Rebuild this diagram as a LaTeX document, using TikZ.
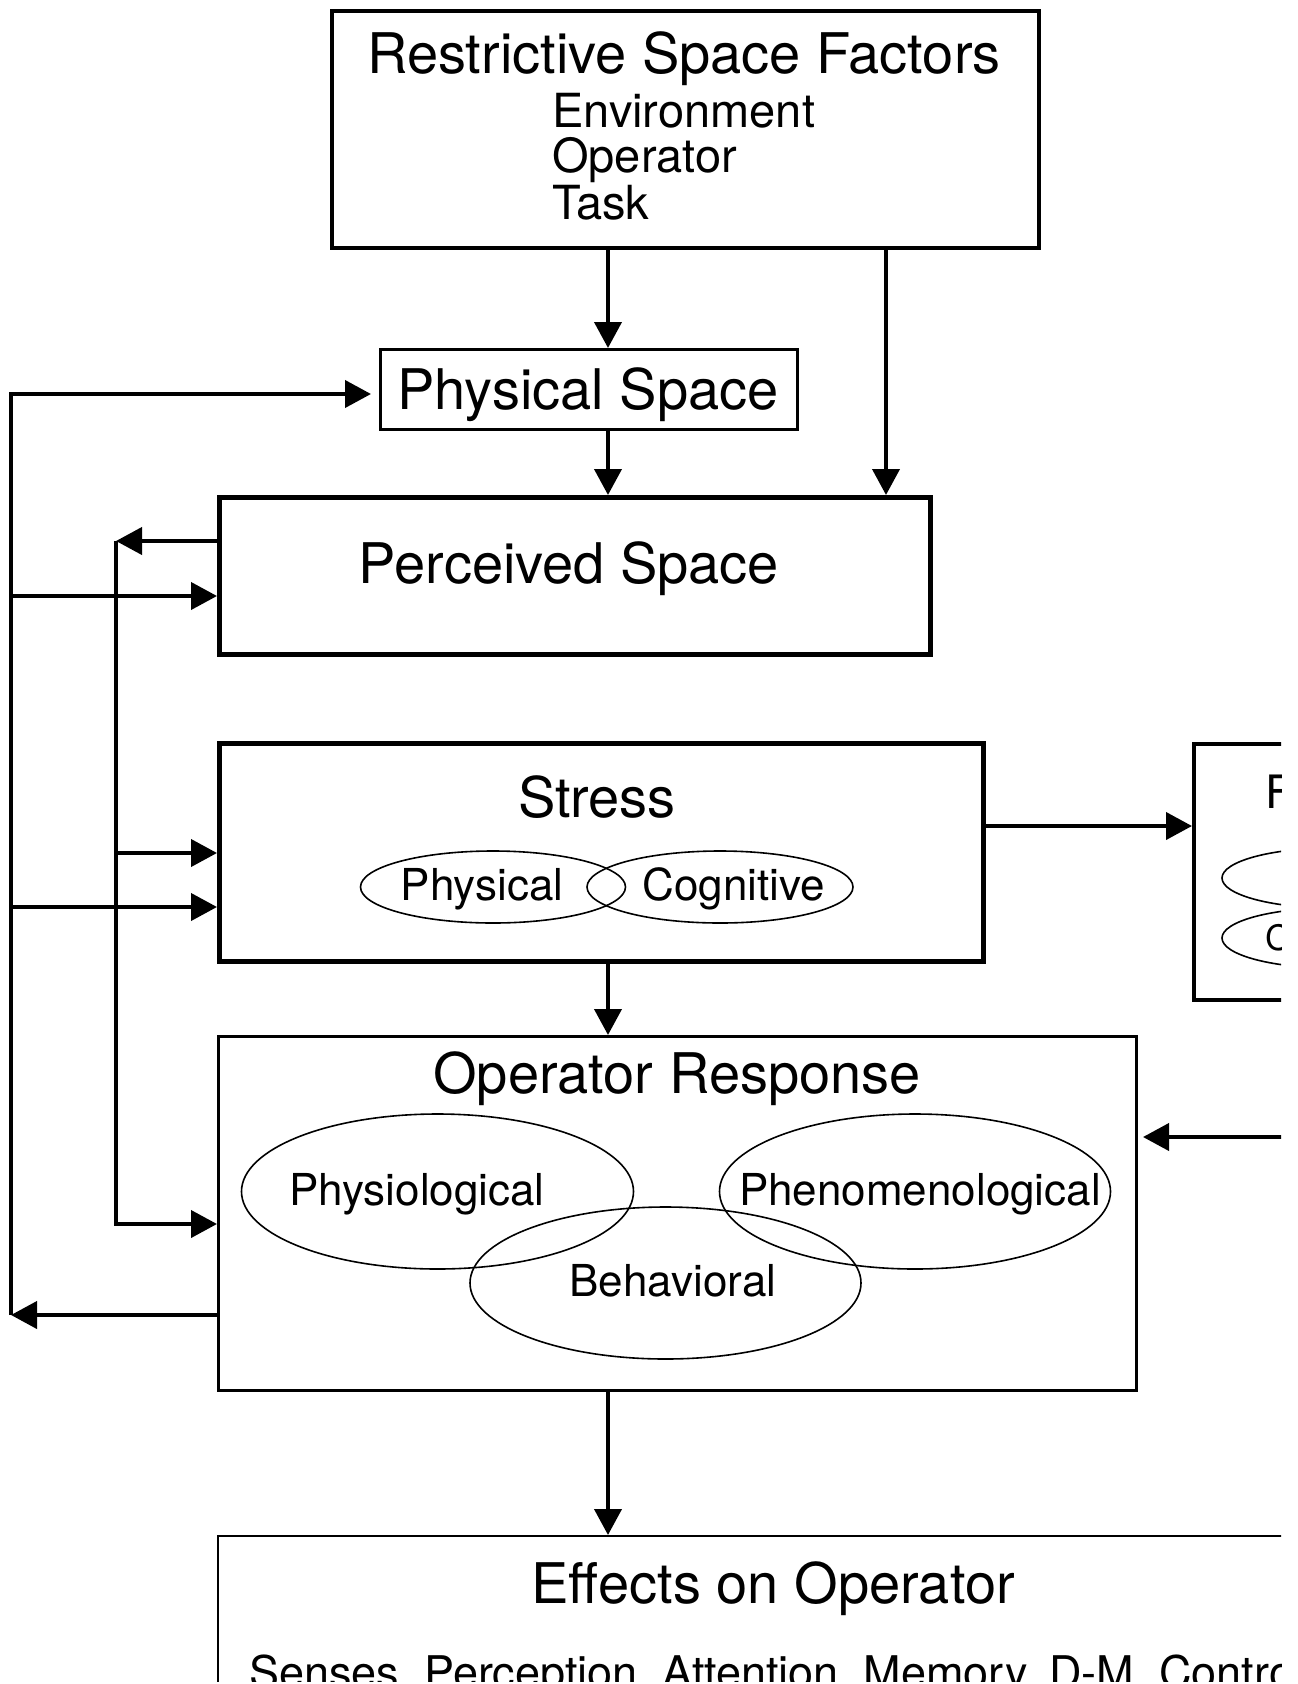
\documentclass[tikz,border=0pt]{standalone}
\usepackage{fontspec}
\setmainfont{TeX Gyre Heros}
\usetikzlibrary{arrows.meta,shapes.geometric}
\begin{document}
\begin{tikzpicture}[x=1pt,y=-1pt,
  box/.style={draw, rectangle, inner sep=0pt, anchor=north west},
  arr/.style={line width=4pt, -{Triangle[length=26pt,width=27pt]}},
  ln/.style={line width=4pt},
  ell/.style={draw, ellipse, line width=1.6pt, inner sep=0pt},
  big/.style={font=\fontsize{56}{60}\selectfont, inner sep=0pt},
  mid/.style={font=\fontsize{47}{50}\selectfont, inner sep=0pt},
  small/.style={font=\fontsize{44}{48}\selectfont, inner sep=0pt},
  line/.style={font=\fontsize{45}{48}\selectfont, inner sep=0pt},
  tiny/.style={font=\fontsize{35}{40}\selectfont, inner sep=0pt},
  fbig/.style={font=\fontsize{46}{50}\selectfont, inner sep=0pt},
]
\useasboundingbox (0,0) rectangle (1298,1684);
\clip (-5,-5) rectangle (1281,1681);

% boxes
\node[box, line width=3.5pt, minimum width=707pt, minimum height=237pt] (rsf) at (330,9) {};
\node[box, line width=3pt, minimum width=417pt, minimum height=80pt] (phys) at (379,348) {};
\node[box, line width=4.5pt, minimum width=711pt, minimum height=157pt] (perc) at (217,495) {};
\node[box, line width=4.5pt, minimum width=764pt, minimum height=218pt] (stress) at (217,741) {};
\node[box, line width=4pt, minimum width=300pt, minimum height=256pt] (fat) at (1192,742) {};
\node[box, line width=2.5pt, minimum width=918pt, minimum height=354pt] (resp) at (217,1035) {};
\node[box, line width=2pt, minimum width=1200pt, minimum height=400pt] (eff) at (217,1535) {};

% texts
\node[big, anchor=base] (t1) at (684,73) {Restrictive Space Factors};
\node[mid, anchor=base west] (t2) at (552,127) {Environment};
\node[mid, anchor=base west] (t3) at (552,172) {Operator};
\node[mid, anchor=base west] (t4) at (552,219) {Task};
\node[big, anchor=base] (t5) at (588,409) {Physical Space};
\node[big, anchor=base] (t6) at (569,583) {Perceived Space};
\node[big, anchor=base] (t7) at (597,817) {Stress};
\node[big, anchor=base] (t8) at (677,1093) {Operator Response};
\node[big, anchor=base] (t9) at (773,1603) {Effects on Operator};
\node[line, anchor=base west] (t10) at (249,1688) {Senses, Perception, Attention, Memory, D-M, Control};
\node[fbig, anchor=base west] (t11) at (1265,808) {Fatigue};

% ellipses
\node[ell, minimum width=265pt, minimum height=72pt] (e1) at (493,887) {};
\node[ell, minimum width=266pt, minimum height=72pt] (e2) at (720,887) {};
\node[small, anchor=base] (e1t) at (482,900) {Physical};
\node[small, anchor=base] (e2t) at (734,900) {Cognitive};

\node[ell, minimum width=392pt, minimum height=155pt] (e3) at (437.5,1191.5) {};
\node[ell, minimum width=391pt, minimum height=155pt] (e4) at (915,1191.5) {};
\node[ell, minimum width=391pt, minimum height=152pt] (e5) at (665.5,1283) {};
\node[small, anchor=base] (e3t) at (417,1205) {Physiological};
\node[small, anchor=base] (e4t) at (920,1205) {Phenomenological};
\node[small, anchor=base] (e5t) at (673,1296) {Behavioral};

\node[ell, minimum width=220pt, minimum height=60pt] (f1) at (1332,878) {};
\node[ell, minimum width=220pt, minimum height=60pt] (f2) at (1332,938) {};
\node[tiny, anchor=base west] (f1t) at (1279,887) {Physical};
\node[tiny, anchor=base west] (f2t) at (1265,950) {Cognitive};

% vertical connectors
\draw[arr] (608,0 |- rsf.south) -- (608,0 |- phys.north);
\draw[arr] (886,0 |- rsf.south) -- (886,0 |- perc.north);
\draw[arr] (608,0 |- phys.south) -- (608,0 |- perc.north);
\draw[arr] (608,0 |- stress.south) -- (608,0 |- resp.north);
\draw[arr] (608,0 |- resp.south) -- (608,0 |- eff.north);

% right connectors
\draw[arr] (stress.east |- 0,826) -- (fat.west |- 0,826);
\coordinate (rin) at (1300,1137);
\coordinate (rtip) at (1143,1137);
\draw[arr] (rin) -- (rtip);

% outer feedback loop
\coordinate (oTop) at (11,394);
\coordinate (oBot) at (11,1315);
\draw[arr, shorten >=8pt] (oBot) -- (oTop) -- (phys.west |- oTop);
\draw[arr] (resp.west |- oBot) -- (oBot);
\draw[arr] (oTop |- 0,596) -- (perc.west |- 0,596);
\draw[arr] (oTop |- 0,907) -- (stress.west |- 0,907);

% inner feedback loop
\coordinate (iTop) at (116,541);
\coordinate (iBot) at (116,1224);
\draw[arr] (perc.west |- iTop) -- (iTop);
\draw[arr] (iTop) -- (iBot) -- (resp.west |- iBot);
\draw[arr] (iTop |- 0,853) -- (stress.west |- 0,853);
\end{tikzpicture}
\end{document}
